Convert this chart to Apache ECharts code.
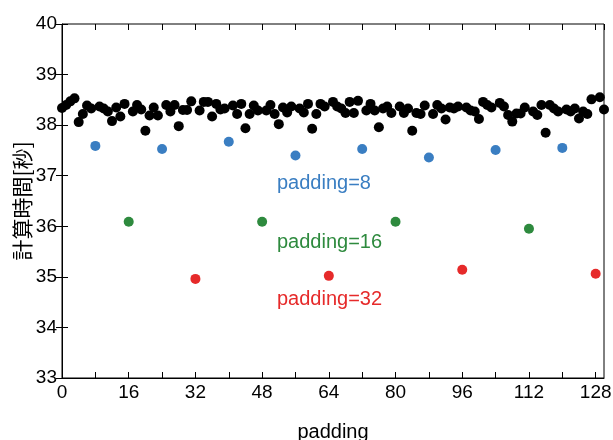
<!DOCTYPE html>
<html>
<head>
<meta charset="utf-8">
<script src="https://cdn.jsdelivr.net/npm/echarts@6/dist/echarts.min.js"></script>
<style>html,body{margin:0;padding:0;background:#fff;}#c{width:613px;height:440px;}</style>
</head>
<body>
<div id="c"></div>
<script>
// padding values 0..130; null where padding is a multiple of 8 (drawn in other series)
var blackTimes = [
 38.34,38.40,38.47,38.53,38.06,38.22,38.39,38.33,null,38.37,
 38.33,38.27,38.08,38.35,38.17,38.42,null,38.27,38.40,38.31,
 37.89,38.19,38.35,38.19,null,38.40,38.27,38.40,37.98,38.30,
 38.30,38.47,null,38.29,38.46,38.46,38.17,38.42,38.31,38.33,
 null,38.39,38.22,38.42,37.94,38.22,38.39,38.29,null,38.29,
 38.40,38.22,38.02,38.35,38.25,38.37,null,38.33,38.25,38.42,
 37.93,38.22,38.42,38.37,null,38.46,38.37,38.33,38.24,38.46,
 38.24,38.48,null,38.29,38.42,38.29,37.96,38.33,38.37,38.24,
 null,38.37,38.24,38.33,37.89,38.24,38.22,38.39,null,38.22,
 38.40,38.33,38.11,38.35,38.33,38.37,null,38.35,38.29,38.27,
 38.12,38.46,38.40,38.35,null,38.44,38.37,38.20,38.07,38.23,
 38.23,38.35,null,38.27,38.20,38.40,37.85,38.40,38.33,38.27,
 null,38.31,38.27,38.33,38.13,38.27,38.22,38.51,null,38.55,
 38.31
];
var pad8X = [8, 24, 40, 56, 72, 88, 104, 120];
var pad8Y = [37.59, 37.53, 37.67, 37.40, 37.53, 37.36, 37.51, 37.55];
var pad16X = [16, 48, 80, 112];
var pad16Y = [36.09, 36.09, 36.09, 35.95];
var pad32X = [32, 64, 96, 128];
var pad32Y = [34.96, 35.02, 35.14, 35.06];
var labels = ['padding=8', 'padding=16', 'padding=32'];
var colors = ['#000000', '#3a7ec2', '#2e8a3e', '#e62a2a'];

function zip(xs, ys) { return xs.map(function (x, i) { return [x, ys[i]]; }); }
var blackData = [];
blackTimes.forEach(function (v, i) { if (v !== null) blackData.push([i, v]); });

var font = "'Liberation Sans', Arial, Helvetica, sans-serif";
var chart = echarts.init(document.getElementById('c'), null, {renderer: 'canvas'});
var tickStyle = {show: true, inside: true, length: 6, lineStyle: {color: '#000', width: 1}};
var option = {
  backgroundColor: '#fff',
  animation: false,
  grid: {left: 62, right: 9, top: 24, bottom: 62, containLabel: false, outerBoundsMode: 'none',
         show: true, borderColor: '#000', borderWidth: 1, backgroundColor: 'transparent'},
  xAxis: [{
    type: 'value', min: 0, max: 130, interval: 8, position: 'bottom',
    name: 'padding', nameLocation: 'middle', nameGap: 44,
    nameTextStyle: {fontFamily: font, fontSize: 20, color: '#000'},
    axisLine: {show: true, lineStyle: {color: '#000'}},
    axisTick: tickStyle,
    splitLine: {show: false},
    axisLabel: {fontFamily: font, fontSize: 19, color: '#000', margin: 5, showMaxLabel: false,
      formatter: function (v) { return (v % 16 === 0) ? String(v) : ''; }}
  }, {
    type: 'value', min: 0, max: 130, interval: 8, position: 'top',
    axisLine: {show: false}, axisTick: tickStyle, axisLabel: {show: false}, splitLine: {show: false}
  }],
  yAxis: [{
    type: 'value', min: 33, max: 40, interval: 1, position: 'left',
    name: '計算時間[秒]', nameLocation: 'middle', nameGap: 29, nameRotate: 90, nameMoveOverlap: false,
    nameTextStyle: {fontFamily: "'Noto Sans CJK JP', sans-serif", fontSize: 21, color: '#000'},
    axisLine: {show: true, lineStyle: {color: '#000'}},
    axisTick: tickStyle,
    splitLine: {show: false},
    axisLabel: {fontFamily: font, fontSize: 19, color: '#000', margin: 5}
  }, {
    type: 'value', min: 33, max: 40, interval: 1, position: 'right',
    axisLine: {show: false}, axisTick: tickStyle, axisLabel: {show: false}, splitLine: {show: false}
  }],
  series: [
    {type: 'scatter', data: blackData, symbolSize: 10, itemStyle: {color: colors[0], opacity: 1}},
    {type: 'scatter', data: zip(pad8X, pad8Y), symbolSize: 10, itemStyle: {color: colors[1], opacity: 1}},
    {type: 'scatter', data: zip(pad16X, pad16Y), symbolSize: 10, itemStyle: {color: colors[2], opacity: 1}},
    {type: 'scatter', data: zip(pad32X, pad32Y), symbolSize: 10, itemStyle: {color: colors[3], opacity: 1}}
  ],
  graphic: [
    {type: 'text', left: 277, top: 173, style: {text: labels[0], fill: colors[1], font: "20px " + font}},
    {type: 'text', left: 277, top: 232, style: {text: labels[1], fill: colors[2], font: "20px " + font}},
    {type: 'text', left: 277, top: 289, style: {text: labels[2], fill: colors[3], font: "20px " + font}}
  ]
};
chart.setOption(option);
</script>
</body>
</html>
